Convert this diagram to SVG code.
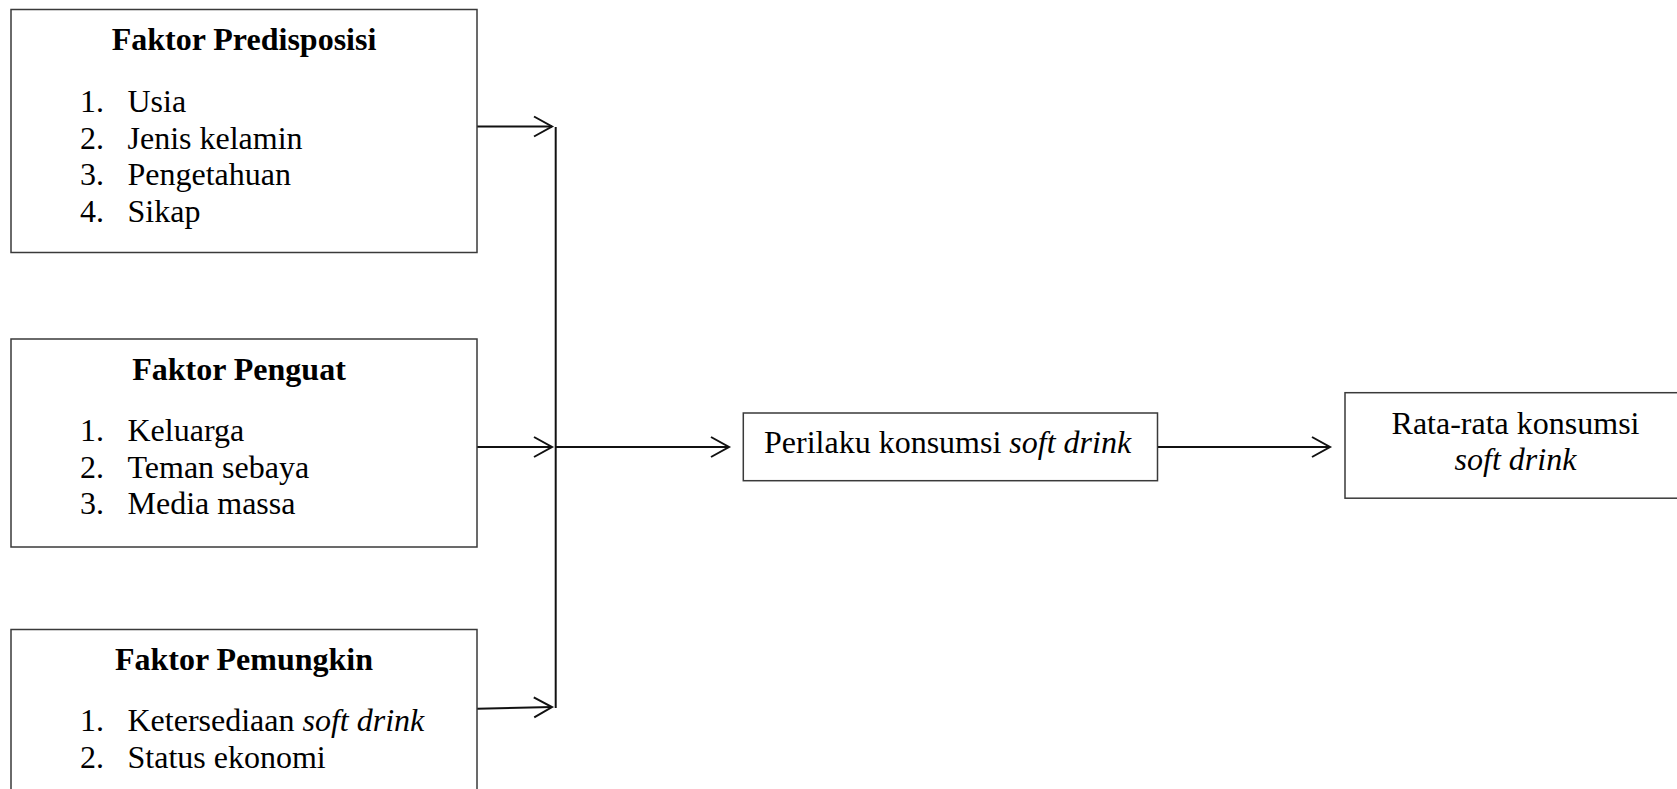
<svg xmlns="http://www.w3.org/2000/svg" width="1677" height="789" viewBox="0 0 1677 789">
<style>
.box{fill:#fff;stroke:#3a3a3a;stroke-width:1.5}
.t{font-family:"Liberation Serif","Times New Roman",serif;font-size:32px;fill:#000}
.b{font-weight:bold}
.i{font-style:italic}
.c{stroke:#111;stroke-width:2;fill:none}
</style>
<defs>
<marker id="ah" viewBox="0 0 20 22" refX="18" refY="11" markerWidth="20" markerHeight="22" markerUnits="userSpaceOnUse" orient="auto" overflow="visible">
<path d="M0,1 L18,11 L0,21" fill="none" stroke="#111" stroke-width="2"/>
</marker>
</defs>
<rect width="1677" height="789" fill="#fff"/>

<g id="connectors">
<line class="c" x1="477" y1="126.5" x2="552" y2="126.5" marker-end="url(#ah)"/>
<line class="c" x1="477" y1="447" x2="552" y2="447" marker-end="url(#ah)"/>
<line class="c" x1="477" y1="708.7" x2="552" y2="707" marker-end="url(#ah)"/>
<line class="c" x1="555.7" y1="127" x2="555.7" y2="708"/>
<line class="c" x1="555.7" y1="447" x2="729" y2="447" marker-end="url(#ah)"/>
<line class="c" x1="1157.5" y1="447" x2="1330" y2="447" marker-end="url(#ah)"/>
</g>

<g id="faktor-predisposisi">
<rect class="box" x="11" y="9.5" width="466" height="243"/>
<text class="t b" x="244" y="50" text-anchor="middle">Faktor Predisposisi</text>
<text class="t" x="80" y="112">1.</text><text class="t" x="127.5" y="112">Usia</text>
<text class="t" x="80" y="148.5">2.</text><text class="t" x="127.5" y="148.5">Jenis kelamin</text>
<text class="t" x="80" y="185">3.</text><text class="t" x="127.5" y="185">Pengetahuan</text>
<text class="t" x="80" y="221.5">4.</text><text class="t" x="127.5" y="221.5">Sikap</text>
</g>

<g id="faktor-penguat">
<rect class="box" x="11" y="339" width="466" height="208"/>
<text class="t b" x="239" y="379.5" text-anchor="middle">Faktor Penguat</text>
<text class="t" x="80" y="441">1.</text><text class="t" x="127.5" y="441">Keluarga</text>
<text class="t" x="80" y="477.5">2.</text><text class="t" x="127.5" y="477.5">Teman sebaya</text>
<text class="t" x="80" y="514">3.</text><text class="t" x="127.5" y="514">Media massa</text>
</g>

<g id="faktor-pemungkin">
<rect class="box" x="11" y="629.5" width="466" height="200"/>
<text class="t b" x="244" y="669.5" text-anchor="middle">Faktor Pemungkin</text>
<text class="t" x="80" y="731">1.</text><text class="t" x="127.5" y="731">Ketersediaan <tspan class="i">soft drink</tspan></text>
<text class="t" x="80" y="768">2.</text><text class="t" x="127.5" y="768">Status ekonomi</text>
</g>

<g id="perilaku">
<rect class="box" x="743.3" y="413" width="414.2" height="67.7"/>
<text class="t" x="764" y="453">Perilaku konsumsi <tspan class="i">soft drink</tspan></text>
</g>

<g id="rata-rata">
<rect class="box" x="1345" y="392.7" width="350" height="105.5"/>
<text class="t" x="1515.5" y="433.5" text-anchor="middle">Rata-rata konsumsi</text>
<text class="t i" x="1515.5" y="469.5" text-anchor="middle">soft drink</text>
</g>
</svg>
